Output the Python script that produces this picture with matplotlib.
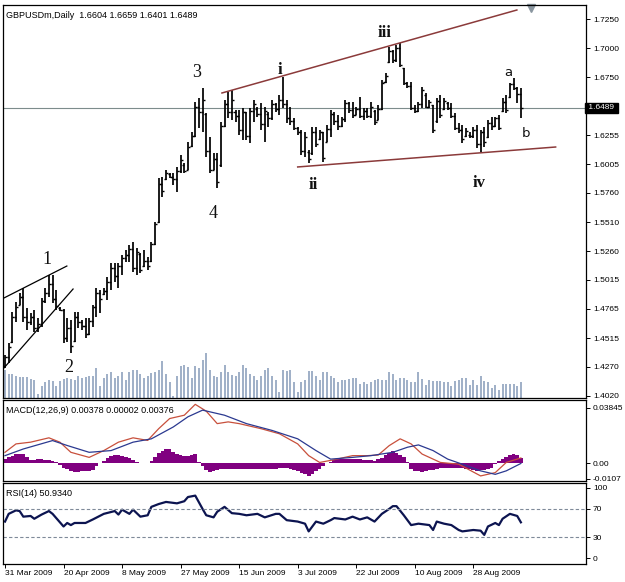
import matplotlib
matplotlib.use("Agg")
import matplotlib.pyplot as plt
import numpy as np

# ---------------- data ----------------
opens = [1.4280,1.4350,1.4480,1.4700,1.4800,1.4870,1.4700,1.4650,1.4700,1.4600,
         1.4640,1.4830,1.4900,1.4980,1.4850,1.4770,1.4760,1.4520,1.4600,1.4490,
         1.4700,1.4650,1.4620,1.4550,1.4660,1.4780,1.4900,1.4890,1.4920,1.5000,
         1.5120,1.5050,1.5130,1.5200,1.5230,1.5280,1.5120,1.5240,1.5130,1.5180,
         1.5180,1.5320,1.5510,1.5840,1.5880,1.5920,1.5900,1.5880,1.5950,1.6000,
         1.5960,1.6160,1.6250,1.6500,1.6450,1.6440,1.6120,1.5960,1.6050,1.6000,
         1.6330,1.6520,1.6450,1.6450,1.6420,1.6300,1.6450,1.6250,1.6460,1.6480,
         1.6440,1.6350,1.6440,1.6400,1.6520,1.6480,1.6560,1.6520,1.6400,1.6380,
         1.6320,1.6280,1.6120,1.6110,1.6100,1.6280,1.6220,1.6280,1.6200,1.6310,
         1.6440,1.6380,1.6330,1.6390,1.6530,1.6470,1.6430,1.6480,1.6420,1.6460,
         1.6420,1.6460,1.6385,1.6480,1.6710,1.6880,1.6980,1.6900,1.7000,1.6830,
         1.6700,1.6680,1.6490,1.6460,1.6520,1.6600,1.6500,1.6510,1.6380,1.6550,
         1.6480,1.6530,1.6490,1.6420,1.6320,1.6300,1.6250,1.6260,1.6250,1.6300,
         1.6180,1.6280,1.6240,1.6360,1.6330,1.6400,1.6460,1.6540,1.6580,1.6690,
         1.6660,1.6604]
highs = [1.4371,1.4474,1.4739,1.4825,1.4902,1.4945,1.4773,1.4731,1.4756,1.4688,
         1.4859,1.4945,1.5056,1.5056,1.4928,1.4782,1.4765,1.4688,1.4671,1.4739,
         1.4739,1.4671,1.4688,1.4688,1.4799,1.4945,1.4928,1.4945,1.5039,1.5159,
         1.5159,1.5159,1.5228,1.5271,1.5313,1.5339,1.5288,1.5245,1.5271,1.5211,
         1.5339,1.5510,1.5888,1.5896,1.5956,1.5930,1.5930,1.5982,1.6085,1.6016,
         1.6196,1.6282,1.6539,1.6573,1.6659,1.6445,1.6239,1.6102,1.6102,1.6368,
         1.6556,1.6625,1.6642,1.6470,1.6470,1.6487,1.6453,1.6487,1.6556,1.6496,
         1.6530,1.6496,1.6453,1.6556,1.6530,1.6599,1.6753,1.6556,1.6496,1.6402,
         1.6325,1.6299,1.6282,1.6128,1.6325,1.6325,1.6299,1.6282,1.6342,1.6470,
         1.6453,1.6428,1.6410,1.6556,1.6539,1.6539,1.6496,1.6582,1.6487,1.6487,
         1.6539,1.6470,1.6513,1.6727,1.6787,1.7010,1.6985,1.7027,1.7045,1.6830,
         1.6710,1.6710,1.6513,1.6539,1.6667,1.6616,1.6556,1.6513,1.6573,1.6599,
         1.6573,1.6539,1.6530,1.6445,1.6359,1.6342,1.6316,1.6282,1.6325,1.6342,
         1.6299,1.6325,1.6385,1.6410,1.6410,1.6428,1.6573,1.6599,1.6702,1.6745,
         1.6670,1.6659]
lows = [1.4259,1.4302,1.4474,1.4653,1.4799,1.4653,1.4585,1.4628,1.4568,1.4568,
        1.4611,1.4816,1.4868,1.4816,1.4756,1.4745,1.4474,1.4482,1.4388,1.4482,
        1.4602,1.4585,1.4516,1.4542,1.4611,1.4696,1.4731,1.4885,1.4842,1.4928,
        1.4996,1.4945,1.5056,1.5168,1.5168,1.5082,1.5056,1.5073,1.5125,1.5099,
        1.5168,1.5313,1.5502,1.5725,1.5870,1.5888,1.5828,1.5768,1.5930,1.5930,
        1.5956,1.6153,1.6239,1.6316,1.6282,1.6068,1.5930,1.5956,1.5802,1.5982,
        1.6325,1.6402,1.6385,1.6368,1.6256,1.6213,1.6213,1.6187,1.6368,1.6410,
        1.6299,1.6196,1.6325,1.6385,1.6453,1.6428,1.6487,1.6359,1.6342,1.6299,
        1.6256,1.6085,1.6068,1.6016,1.6085,1.6153,1.6213,1.6025,1.6196,1.6239,
        1.6342,1.6299,1.6325,1.6368,1.6445,1.6402,1.6428,1.6402,1.6385,1.6402,
        1.6402,1.6342,1.6385,1.6470,1.6702,1.6873,1.6873,1.6882,1.6839,1.6685,
        1.6659,1.6470,1.6445,1.6453,1.6487,1.6487,1.6487,1.6273,1.6359,1.6402,
        1.6470,1.6470,1.6402,1.6299,1.6273,1.6187,1.6239,1.6230,1.6230,1.6145,
        1.6110,1.6153,1.6230,1.6299,1.6325,1.6299,1.6453,1.6445,1.6573,1.6642,
        1.6530,1.6401]
closes = [1.4350,1.4440,1.4700,1.4780,1.4870,1.4700,1.4650,1.4700,1.4600,1.4640,
          1.4830,1.4900,1.4980,1.4850,1.4790,1.4760,1.4520,1.4600,1.4450,1.4700,
          1.4650,1.4620,1.4550,1.4660,1.4780,1.4900,1.4850,1.4920,1.5000,1.5120,
          1.5050,1.5130,1.5200,1.5230,1.5280,1.5120,1.5250,1.5100,1.5180,1.5130,
          1.5320,1.5490,1.5840,1.5780,1.5930,1.5900,1.5880,1.5950,1.6040,1.5950,
          1.6150,1.6250,1.6500,1.6450,1.6560,1.6120,1.5960,1.6050,1.5850,1.6330,
          1.6520,1.6450,1.6560,1.6420,1.6300,1.6450,1.6250,1.6460,1.6520,1.6440,
          1.6350,1.6460,1.6400,1.6520,1.6480,1.6560,1.6520,1.6400,1.6380,1.6320,
          1.6280,1.6120,1.6240,1.6050,1.6280,1.6180,1.6280,1.6060,1.6310,1.6440,
          1.6380,1.6330,1.6390,1.6530,1.6470,1.6430,1.6480,1.6420,1.6460,1.6420,
          1.6500,1.6370,1.6480,1.6700,1.6760,1.6980,1.6900,1.7000,1.6860,1.6700,
          1.6680,1.6490,1.6460,1.6520,1.6640,1.6500,1.6540,1.6300,1.6550,1.6430,
          1.6550,1.6490,1.6420,1.6320,1.6300,1.6220,1.6290,1.6250,1.6300,1.6180,
          1.6280,1.6200,1.6360,1.6330,1.6400,1.6320,1.6540,1.6470,1.6690,1.6660,
          1.6604,1.6489]
volume = [28,24,24,22,21,21,21,19,18,4,12,16,18,17,12,17,19,20,19,18,
          22,20,21,22,22,30,12,20,24,26,20,22,26,18,26,28,28,24,20,22,
          25,26,28,37,24,16,2,22,32,33,31,20,32,30,38,45,28,22,21,26,
          33,26,23,22,26,33,30,24,22,18,22,28,30,22,18,6,28,27,28,16,
          6,16,18,27,27,22,18,26,26,22,20,16,18,18,19,20,20,14,16,14,
          16,18,19,18,18,26,24,18,20,20,18,16,16,26,19,13,18,17,17,17,
          16,16,12,17,18,20,20,13,18,13,22,17,16,10,13,8,14,14,14,14,
          12,16]

macd_hist = [0.0030,0.0042,0.0053,0.0065,0.0065,0.0065,0.0045,0.0022,0.0023,0.0028,
             0.0030,0.0027,0.0025,0.0018,0.0008,-0.0012,-0.0030,-0.0040,-0.0050,-0.0058,
             -0.0057,-0.0055,-0.0053,-0.0051,-0.0045,-0.0020,0.0000,0.0020,0.0040,0.0050,
             0.0058,0.0055,0.0050,0.0046,0.0035,0.0022,0.0010,0.0006,0.0003,0.0000,
             0.0020,0.0045,0.0070,0.0083,0.0097,0.0098,0.0080,0.0062,0.0057,0.0052,
             0.0050,0.0056,0.0065,0.0010,-0.0020,-0.0045,-0.0062,-0.0055,-0.0045,-0.0037,
             -0.0035,-0.0036,-0.0037,-0.0039,-0.0040,-0.0039,-0.0038,-0.0036,-0.0035,-0.0036,
             -0.0038,-0.0039,-0.0040,-0.0039,-0.0036,-0.0033,-0.0031,-0.0030,-0.0038,-0.0045,
             -0.0053,-0.0065,-0.0075,-0.0086,-0.0070,-0.0055,-0.0040,-0.0020,0.0000,0.0012,
             0.0022,0.0030,0.0030,0.0030,0.0030,0.0030,0.0030,0.0030,0.0027,0.0024,
             0.0022,0.0020,0.0030,0.0040,0.0057,0.0075,0.0088,0.0072,0.0055,0.0045,
             0.0010,-0.0040,-0.0050,-0.0055,-0.0060,-0.0055,-0.0048,-0.0042,-0.0036,-0.0034,
             -0.0032,-0.0031,-0.0031,-0.0030,-0.0030,-0.0032,-0.0035,-0.0040,-0.0045,-0.0049,
             -0.0048,-0.0043,-0.0037,-0.0030,-0.0005,0.0020,0.0032,0.0045,0.0058,0.0065,
             0.0055,0.0038]
macd_main_idx = [0,3,7,12,15,18,23,27,31,35,39,42,45,49,52,55,58,61,64,70,75,80,83,86,
                 90,95,99,102,105,108,111,114,119,124,130,134,137,141]
macd_main = [0.0077,0.0135,0.0147,0.0177,0.0147,0.0077,0.0042,0.0089,0.0147,0.0177,
             0.0159,0.0240,0.0310,0.0333,0.0408,0.0361,0.0275,0.0287,0.0275,0.0240,
             0.0205,0.0135,0.0054,0.0007,0.0026,0.0054,0.0054,0.0058,0.0123,0.0170,
             0.0135,0.0065,0.0007,-0.0005,-0.0086,-0.0063,0.0007,0.0038]
macd_signal_idx = [0,5,13,17,23,29,35,40,46,50,54,60,66,73,80,85,89,95,100,106,110,113,
                   117,121,125,130,134,137,141]
macd_signal = [0.0054,0.0100,0.0158,0.0124,0.0077,0.0089,0.0147,0.0170,0.0252,0.0322,
               0.0368,0.0333,0.0275,0.0228,0.0170,0.0089,0.0030,0.0042,0.0054,0.0077,
               0.0112,0.0128,0.0089,0.0030,-0.0005,-0.0051,-0.0075,-0.0051,0.0000]

rsi_idx = [0,1,3,4,5,7,8,10,12,13,16,17,18,19,22,24,27,30,31,32,34,35,37,39,40,42,44,47,
           49,50,52,54,55,57,58,60,62,64,66,69,71,74,75,77,80,82,83,85,87,89,90,93,95,97,
           99,101,103,105,106,107,109,111,113,116,117,118,120,122,124,125,128,130,131,
           132,134,135,136,138,140,141]
rsi_vals = [52,63,68,67,59,60,56,62,67,63,45,50,47,50,50,55,63,67,62,69,63,69,59,61,73,
            77,80,78,81,87,89,70,61,58,66,73,64,63,61,63,58,63,63,54,52,49,38,52,49,54,
            57,55,59,55,58,52,63,70,74,74,61,47,49,47,40,52,49,47,40,38,40,39,33,45,50,
            47,56,63,60,50.93]

date_idx = [0,16,32,48,64,80,96,112,128]
date_labels = ["31 Mar 2009","20 Apr 2009","8 May 2009","27 May 2009","15 Jun 2009",
               "3 Jul 2009","22 Jul 2009","10 Aug 2009","28 Aug 2009"]
price_ticks = [1.7250,1.7000,1.6750,1.6255,1.6005,1.5760,1.5510,1.5260,1.5015,
               1.4765,1.4515,1.4270,1.4020]
last_price = 1.6489

# drawn analysis objects (bar index, price)
channel_upper = ([59.3, 139.9], [1.6616, 1.7327])
channel_lower = ([80.0, 150.5], [1.5982, 1.6153])
wedge_upper = ([-0.3, 16.9], [1.4859, 1.5133])
wedge_lower = ([-0.3, 18.6], [1.4259, 1.4936])
wave_labels = [("1", 11.5, 1.5190, 'serif', 13, 'normal'),
               ("2", 17.5, 1.4260, 'serif', 13, 'normal'),
               ("3", 52.5, 1.6795, 'serif', 13, 'normal'),
               ("4", 57.0, 1.5580, 'serif', 13, 'normal'),
               ("i", 75.2, 1.6813, 'serif', 12, 'bold'),
               ("ii", 84.2, 1.5830, 'serif', 12, 'bold'),
               ("iii", 103.8, 1.7130, 'serif', 12, 'bold'),
               ("iv", 129.5, 1.5845, 'serif', 12, 'bold'),
               ("a", 137.5, 1.6795, 'sans-serif', 9.5, 'normal'),
               ("b", 142.5, 1.6270, 'sans-serif', 9.5, 'normal')]

# ---------------- layout ----------------
W, H = 625, 582
fig = plt.figure(figsize=(W/100, H/100), dpi=100)
fig.patch.set_facecolor('white')
plt.rcParams['font.family'] = ['Liberation Sans', 'DejaVu Sans']

def rect(l, t, r, b):
    return [l/W, 1 - b/H, (r-l)/W, (b-t)/H]

ax = fig.add_axes(rect(3, 5, 586, 398))
axv = ax.twinx()
axm = fig.add_axes(rect(3, 400, 586, 481))
axr = fig.add_axes(rect(3, 483, 586, 564))

n = len(closes)
idx = np.arange(n)
xlim = (-0.55, 158.8)

# volume
axv.vlines(idx, 0, volume, color='#8fa2bd', lw=1.2)
axv.set_ylim(0, 393)
axv.set_yticks([])
axv.set_zorder(1)
ax.set_zorder(2)
ax.patch.set_visible(False)

# price bars
ax.vlines(idx, lows, highs, color='black', lw=1.25)
ax.hlines(opens, idx - 0.55, idx, color='black', lw=1.0)
ax.hlines(closes, idx, idx + 0.55, color='black', lw=1.0)
ax.axhline(last_price, color='#7d8c8c', lw=0.8, zorder=0)
ax.plot(*channel_upper, color='#8b3a3a', lw=1.1)
ax.plot(*channel_lower, color='#8b3a3a', lw=1.1)
ax.plot(*wedge_upper, color='black', lw=0.9)
ax.plot(*wedge_lower, color='black', lw=0.9)
for t, xi, yi, fam, fs, fw in wave_labels:
    ax.text(xi, yi, t, family=fam if fam != 'serif' else ['Liberation Serif', 'DejaVu Serif'],
            fontsize=fs, fontweight=fw, ha='center', va='center', color='#111111')
ax.set_xlim(*xlim)
ax.set_ylim(1.4002, 1.7370)
ax.yaxis.tick_right()
ax.set_yticks(price_ticks)
ax.set_yticklabels([f"{v:.4f}" for v in price_ticks])
ax.set_xticks([])
ax.text(0.006, 0.986, "GBPUSDm,Daily  1.6604 1.6659 1.6401 1.6489", transform=ax.transAxes,
        fontsize=6.5, va='top', ha='left')
ax.text(1.0, last_price, " 1.6489 ", transform=ax.get_yaxis_transform(), fontsize=6,
        color='white', va='center', ha='left',
        bbox=dict(boxstyle='square,pad=0.15', fc='black', ec='black'))
ax.plot([0.905], [0.993], marker='v', color='#8a96a0', ms=6, transform=ax.transAxes, clip_on=False)

# MACD
axm.bar(idx, macd_hist, width=1.0, color='#800080', edgecolor='none')
axm.plot(macd_main_idx, macd_main, color='#c8503c', lw=0.9)
axm.plot(macd_signal_idx, macd_signal, color='#2b3990', lw=0.9)
axm.set_xlim(*xlim)
axm.set_ylim(-0.0121, 0.0438)
axm.yaxis.tick_right()
axm.set_yticks([0.0, -0.0107, 0.03845])
axm.set_yticklabels(["0.00", "-0.0107", "0.03845"])
axm.set_xticks([])
axm.text(0.006, 0.93, "MACD(12,26,9) 0.00378 0.00002 0.00376", transform=axm.transAxes,
         fontsize=6.5, va='top', ha='left')

# RSI
axr.plot(rsi_idx, rsi_vals, color='#0c1450', lw=1.6)
for lvl in (70, 30):
    axr.axhline(lvl, color='#7f8a99', lw=0.8, ls=(0, (3, 2)))
axr.set_xlim(*xlim)
axr.set_ylim(-8.5, 107)
axr.yaxis.tick_right()
axr.set_yticks([100, 70, 30, 0])
axr.set_yticklabels(["100", "70", "30", "0"])
axr.set_xticks(date_idx)
axr.set_xticklabels(date_labels, ha='left')
axr.text(0.006, 0.92, "RSI(14) 50.9340", transform=axr.transAxes,
         fontsize=6.5, va='top', ha='left')

for a in (ax, axm, axr):
    a.tick_params(axis='y', labelsize=6, length=3, width=0.7, pad=2)
    a.tick_params(axis='x', labelsize=6, length=3, width=0.7, pad=1.5)
    for s in a.spines.values():
        s.set_linewidth(0.9)
        s.set_color('black')
for s in axv.spines.values():
    s.set_visible(False)

fig.savefig("out.png", dpi=100)
